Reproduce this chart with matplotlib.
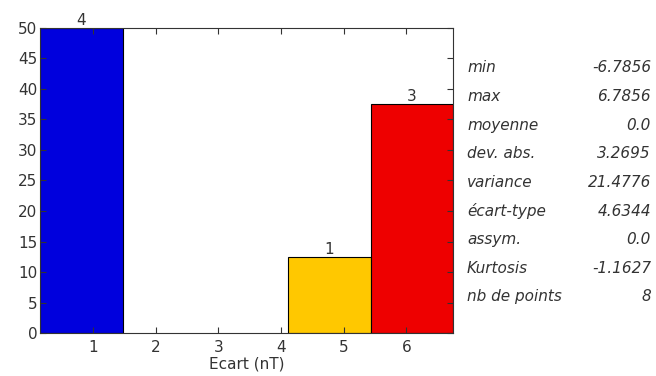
import numpy as np
import matplotlib
matplotlib.use('Agg')
import matplotlib.pyplot as plt

# histogram data
bin_edges = [0.15, 1.47, 2.79, 4.11, 5.43, 6.75]
counts = [4, 0, 0, 1, 3]
bar_colors = ['#0000dd', 'white', 'white', '#ffc800', '#ee0000']

stat_names = ['min', 'max', 'moyenne', 'dev. abs.', 'variance', 'écart-type',
              'assym.', 'Kurtosis', 'nb de points']
stat_values = ['-6.7856', '6.7856', '0.0', '3.2695', '21.4776', '4.6344',
               '0.0', '-1.1627', '8']

total = sum(counts)
percent = [100.0 * c / total for c in counts]
widths = np.diff(bin_edges)

fig = plt.figure(figsize=(6.56, 3.76), dpi=100)
ax = fig.add_axes([0.061, 0.114, 0.630, 0.812])

for left, w, p, c, col in zip(bin_edges[:-1], widths, percent, counts, bar_colors):
    if c == 0:
        continue
    ax.bar(left, p, width=w, align='edge', color=col, edgecolor='black', linewidth=0.8)
    ax.text(left + w / 2, p, str(c), ha='center', va='bottom', fontsize=11, color='#333333')

ax.set_xlim(bin_edges[0], bin_edges[-1])
ax.set_ylim(0, 50)
ax.set_xticks([1, 2, 3, 4, 5, 6])
ax.set_yticks(np.arange(0, 51, 5))
ax.tick_params(direction='in', top=True, right=True, labelsize=11, colors='#333333',
               length=4, pad=5)
ax.tick_params(axis='y', pad=2)
ax.set_xlabel('Ecart (nT)', fontsize=11, color='#333333', labelpad=1)
for s in ax.spines.values():
    s.set_color('#333333')

# stats table on the right
y0 = 1 - 68 / 376
dy = 28.6 / 376
for i, (n, v) in enumerate(zip(stat_names, stat_values)):
    y = y0 - i * dy
    fig.text(467 / 656, y, n, ha='left', va='center', fontsize=11, style='italic', color='#333333')
    fig.text(651 / 656, y, v, ha='right', va='center', fontsize=11, style='italic', color='#333333')

fig.savefig('out.png', dpi=100)
